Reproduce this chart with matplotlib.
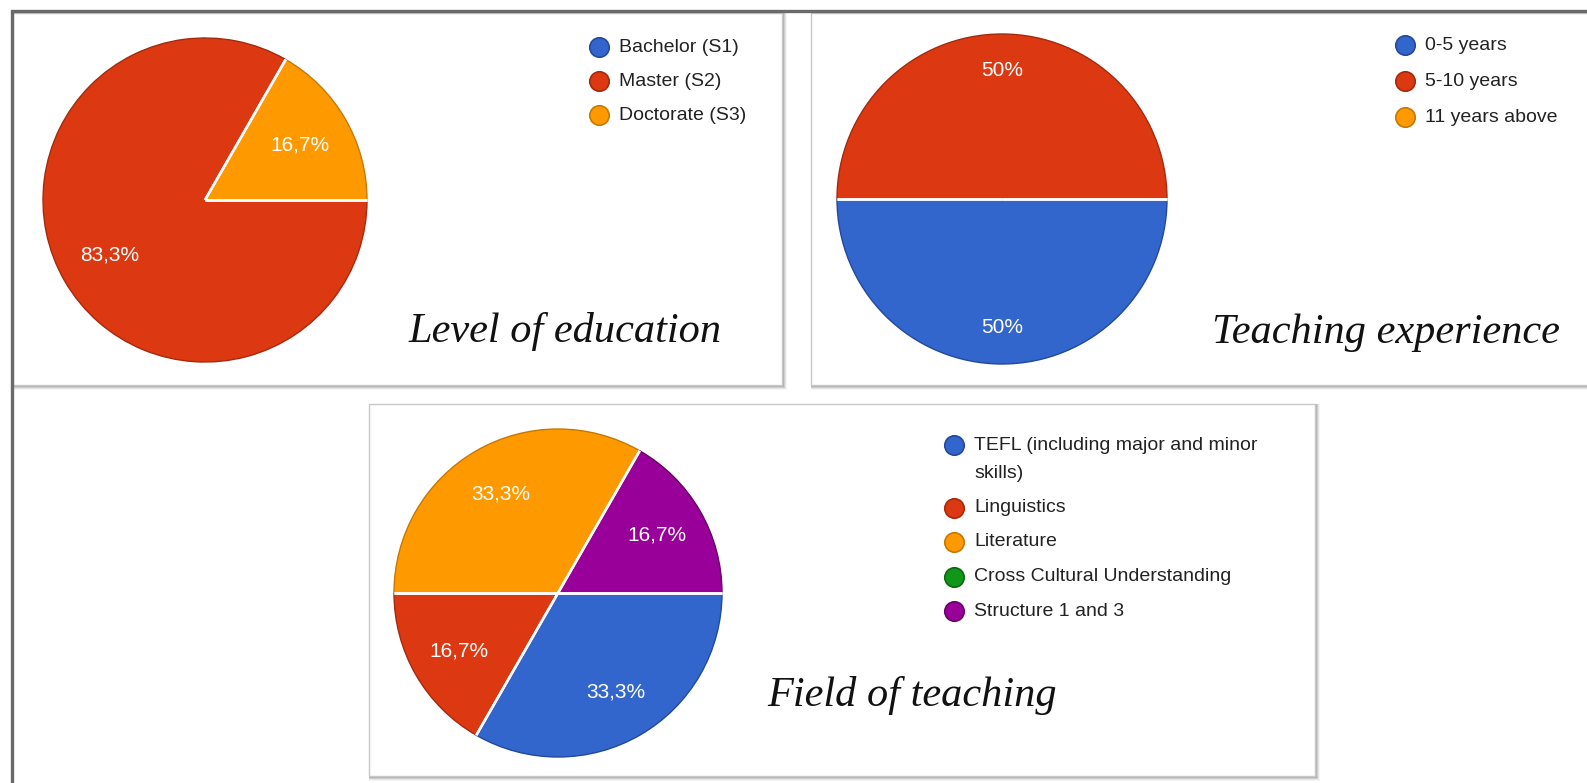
import matplotlib
matplotlib.use('Agg')
import matplotlib.pyplot as plt
import numpy as np
from matplotlib.patches import Rectangle

W, H = 1587, 783

# data
edu_labels = ['Bachelor (S1)', 'Master (S2)', 'Doctorate (S3)']
edu_values = [0, 83.3, 16.7]

exp_labels = ['0-5 years', '5-10 years', '11 years above']
exp_values = [50, 50, 0]

field_labels = ['TEFL (including major and minor\nskills)', 'Linguistics', 'Literature',
                'Cross Cultural Understanding', 'Structure 1 and 3']
field_values = [33.3, 16.7, 33.3, 0, 16.7]

titles = ['Level of education', 'Teaching experience', 'Field of teaching']

colors = ['#3366cc', '#dc3912', '#ff9900', '#109618', '#990099']
edge_colors = ['#24489a', '#a52a0d', '#c87800', '#0b6b10', '#6a006a']


def pct_fmt(p):
    if p < 0.05:
        return ''
    if abs(p - round(p)) < 0.05:
        return '%d%%' % round(p)
    return ('%.1f%%' % p).replace('.', ',')


fig = plt.figure(figsize=(W / 100, H / 100), dpi=100)
bg = fig.add_axes([0, 0, 1, 1])
bg.set_xlim(0, W)
bg.set_ylim(H, 0)
bg.axis('off')

# outer frame
bg.plot([12, 12, W + 5], [H + 5, 11, 11], color='#6a6a6a', lw=2.4, solid_joinstyle='miter')


def box(x0, y0, x1, y1):
    for i, a in [(5, 0.05), (4, 0.09), (3, 0.14), (2, 0.2), (1, 0.28)]:
        bg.add_patch(Rectangle((x0, y0), x1 - x0 + i, y1 - y0 + i, facecolor='#444444',
                               edgecolor='none', alpha=a))
    bg.add_patch(Rectangle((x0, y0), x1 - x0, y1 - y0, facecolor='white',
                           edgecolor='#c8c8c8', lw=1))


box(13, 13, 782, 385)
box(811, 13, W + 10, 385)
box(369, 404, 1315, 776)


def pie_panel(values, labels, cx, cy, r, pctd, leg_x, leg_y, leg_gap, title, tx, ty):
    n = len(values)
    ax = fig.add_axes([(cx - r) / W, 1 - (cy + r) / H, 2 * r / W, 2 * r / H])
    wedges, texts, autotexts = ax.pie(values, colors=colors[:n], startangle=0, counterclock=False,
                                      autopct=pct_fmt, pctdistance=pctd,
                                      wedgeprops=dict(linewidth=1.0),
                                      textprops=dict(color='white', fontsize=15,
                                                     family='Liberation Sans'))
    for i, w in enumerate(wedges):
        w.set_edgecolor(edge_colors[i])
        w.set_clip_on(False)
    # white separators between slices
    for i, w in enumerate(wedges):
        if values[i] > 0:
            for th in (w.theta1, w.theta2):
                t = np.deg2rad(th)
                ax.plot([0, np.cos(t)], [0, np.sin(t)], color='white', lw=1.8,
                        solid_capstyle='butt', clip_on=False, zorder=3)
    for t in autotexts:
        t.set_zorder(4)
    ax.set_xlim(-1, 1)
    ax.set_ylim(-1, 1)
    ax.axis('off')

    # legend
    y = leg_y
    for i, lab in enumerate(labels):
        bg.plot(leg_x, y, 'o', ms=14, mfc=colors[i], mec=edge_colors[i], mew=1.2)
        for j, line in enumerate(lab.split('\n')):
            bg.text(leg_x + 20, y + j * 28, line, fontsize=14, family='Liberation Sans',
                    color='#222222', va='center', ha='left')
        y += leg_gap + 28 * lab.count('\n')

    bg.text(tx, ty, title, fontsize=30.5, family='Liberation Serif', style='italic',
            color='#111111', ha='left', va='baseline')


pie_panel(edu_values, edu_labels, 205, 200, 162, 0.68, 599, 47, 34,
          titles[0], 408, 342)
pie_panel(exp_values, exp_labels, 1002, 199, 165, 0.78, 1405, 45, 36,
          titles[1], 1212, 343)
pie_panel(field_values, field_labels, 558, 593, 164, 0.70, 954, 445, 34.5,
          titles[2], 767, 706)

fig.savefig('out.png', dpi=100)
